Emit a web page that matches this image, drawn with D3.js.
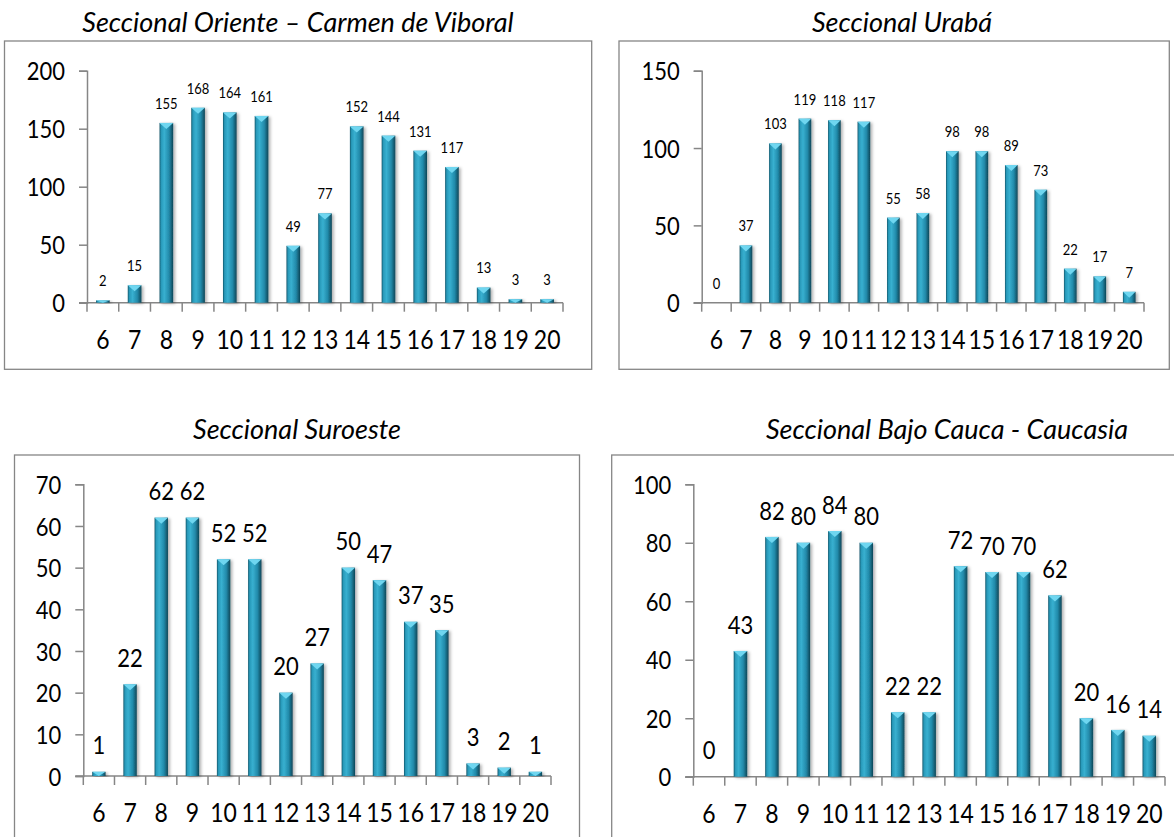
<!DOCTYPE html>
<html>
<head>
<meta charset="utf-8">
<script src="https://cdn.jsdelivr.net/npm/d3@7"></script>
<style>
  body { margin: 0; background: #fff; }
  svg text { font-family: Lato, "Open Sans", sans-serif; fill: #000; }
</style>
</head>
<body>
<svg id="stage" width="1174" height="837"></svg>
<script>
// datos
var categorias = ['6', '7', '8', '9', '10', '11', '12', '13', '14', '15', '16', '17', '18', '19', '20'];
var oriente = [2, 15, 155, 168, 164, 161, 49, 77, 152, 144, 131, 117, 13, 3, 3];
var uraba = [0, 37, 103, 119, 118, 117, 55, 58, 98, 98, 89, 73, 22, 17, 7];
var suroeste = [1, 22, 62, 62, 52, 52, 20, 27, 50, 47, 37, 35, 3, 2, 1];
var bajoCauca = [0, 43, 82, 80, 84, 80, 22, 22, 72, 70, 70, 62, 20, 16, 14];

var ticksOriente = [0, 50, 100, 150, 200];
var ticksUraba = [0, 50, 100, 150];
var ticksSuroeste = [0, 10, 20, 30, 40, 50, 60, 70];
var ticksBajoCauca = [0, 20, 40, 60, 80, 100];

var titulos = ['Seccional Oriente \u2013 Carmen de Viboral', 'Seccional Urab\u00e1',
  'Seccional Suroeste', 'Seccional Bajo Cauca - Caucasia'];

var ESTIRA = 1.15; // el original tiene el texto un poco estirado en vertical

var stage = d3.select('#stage');
var defs = stage.append('defs');

// gradiente de las barras (cilindro)
var grad = defs.append('linearGradient').attr('id', 'barGrad')
  .attr('x1', '0').attr('x2', '1').attr('y1', '0').attr('y2', '0');
[['0%', '#12576c'], ['12%', '#2899b9'], ['35%', '#38b0d0'], ['70%', '#228aaa'], ['100%', '#0e4657']]
  .forEach(function(s) {
    grad.append('stop').attr('offset', s[0]).attr('stop-color', s[1]);
  });

var shadow = defs.append('filter').attr('id', 'sombra')
  .attr('x', '-30%').attr('y', '-10%').attr('width', '170%').attr('height', '130%');
shadow.append('feDropShadow').attr('dx', 2).attr('dy', 1).attr('stdDeviation', 1.5)
  .attr('flood-color', '#000').attr('flood-opacity', 0.3);

var charts = [
  { titulo: titulos[0], valores: oriente, ticks: ticksOriente, max: 200,
    frame: [4.5, 41, 591.7, 369.3], x0: 87, x1: 563, yTop: 70.7, yBase: 302.7,
    tx: 298, ty: 21, vSize: 13, vOff: 20 },
  { titulo: titulos[1], valores: uraba, ticks: ticksUraba, max: 150,
    frame: [619, 41, 1169.3, 369.3], x0: 701.7, x1: 1144, yTop: 70.7, yBase: 302.7,
    tx: 902, ty: 21, vSize: 13, vOff: 20 },
  { titulo: titulos[2], valores: suroeste, ticks: ticksSuroeste, max: 70,
    frame: [14.5, 455, 579.5, 860], x0: 83.3, x1: 551, yTop: 484.3, yBase: 776,
    tx: 297, ty: 428, vSize: 22, vOff: 27 },
  { titulo: titulos[3], valores: bajoCauca, ticks: ticksBajoCauca, max: 100,
    frame: [611.7, 455, 1190, 860], x0: 693.3, x1: 1165, yTop: 484.3, yBase: 776.7,
    tx: 947, ty: 428, vSize: 22, vOff: 27 }
];

// texto centrado en (px, py) con estiramiento vertical
function texto(sel, px, py, size) {
  sel.attr('transform', function(d, i) {
      var a = typeof px === 'function' ? px(d, i) : px;
      var b = typeof py === 'function' ? py(d, i) : py;
      return 'translate(' + a + ',' + b + ') scale(1,' + ESTIRA + ')';
    })
    .attr('text-anchor', 'middle').attr('dominant-baseline', 'central')
    .style('font-size', size + 'px');
  return sel;
}

charts.forEach(function(c) {
  var g = stage.append('g');

  // marco
  g.append('rect')
    .attr('x', c.frame[0]).attr('y', c.frame[1])
    .attr('width', c.frame[2] - c.frame[0]).attr('height', c.frame[3] - c.frame[1])
    .attr('fill', 'none').attr('stroke', '#868686').attr('stroke-width', 1.3);

  // titulo
  g.append('text')
    .attr('x', c.tx).attr('y', c.ty)
    .attr('text-anchor', 'middle').attr('dominant-baseline', 'central')
    .style('font-style', 'italic').style('font-size', '27px')
    .text(c.titulo);

  var x = d3.scaleBand().domain(categorias).range([c.x0, c.x1])
    .paddingInner(0.57).paddingOuter(0.285);
  var y = d3.scaleLinear().domain([0, c.max]).range([c.yBase, c.yTop]);

  // eje y
  var yAxis = g.append('g').attr('transform', 'translate(' + c.x0 + ',0)')
    .call(d3.axisLeft(y).tickValues(c.ticks).tickSize(8).tickFormat(''));
  yAxis.select('.domain').attr('stroke', '#868686').attr('stroke-width', 1.5);
  yAxis.selectAll('.tick line').attr('stroke', '#868686').attr('stroke-width', 1.5);
  texto(g.append('g').selectAll('text').data(c.ticks).enter().append('text'),
      c.x0 - 22, function(d) { return y(d); }, 22)
    .attr('text-anchor', 'end')
    .text(function(d) { return d; });

  // eje x
  var xAxis = g.append('g').attr('transform', 'translate(0,' + c.yBase + ')');
  xAxis.append('line')
    .attr('x1', c.x0 - 8).attr('x2', c.x1)
    .attr('stroke', '#868686').attr('stroke-width', 1.5);
  var bordes = categorias.map(function(d) { return x(d) - x.step() * x.paddingOuter(); });
  bordes.push(c.x1);
  xAxis.selectAll('line.tk').data(bordes).enter().append('line')
    .attr('class', 'tk')
    .attr('x1', function(d) { return d; }).attr('x2', function(d) { return d; })
    .attr('y1', 0).attr('y2', 9)
    .attr('stroke', '#868686').attr('stroke-width', 1.5);
  texto(xAxis.selectAll('text').data(categorias).enter().append('text'),
      function(d) { return x(d) + x.bandwidth() / 2; }, 36, 23)
    .text(function(d) { return d; });

  // barras
  var datos = categorias.map(function(d, i) { return { cat: d, v: c.valores[i] }; });
  var barras = g.append('g').selectAll('g').data(datos.filter(function(d) { return d.v > 0; }))
    .enter().append('g');
  barras.append('rect')
    .attr('x', function(d) { return x(d.cat); })
    .attr('y', function(d) { return y(d.v); })
    .attr('width', x.bandwidth())
    .attr('height', function(d) { return c.yBase - y(d.v); })
    .attr('fill', 'url(#barGrad)')
    .attr('filter', 'url(#sombra)');
  // bisel superior
  barras.append('path')
    .attr('d', function(d) {
      var x0 = x(d.cat), w = x.bandwidth(), t = y(d.v);
      var h = Math.min(6, c.yBase - t);
      return 'M' + x0 + ',' + t + 'L' + (x0 + w) + ',' + t + 'L' + (x0 + w / 2) + ',' + (t + h) + 'Z';
    })
    .attr('fill', '#6fd6f0');

  // etiquetas de valor
  texto(g.append('g').selectAll('text').data(datos).enter().append('text'),
      function(d) { return x(d.cat) + x.bandwidth() / 2; },
      function(d) { return y(d.v) - c.vOff; }, c.vSize)
    .text(function(d) { return d.v; });
});
</script>
</body>
</html>
